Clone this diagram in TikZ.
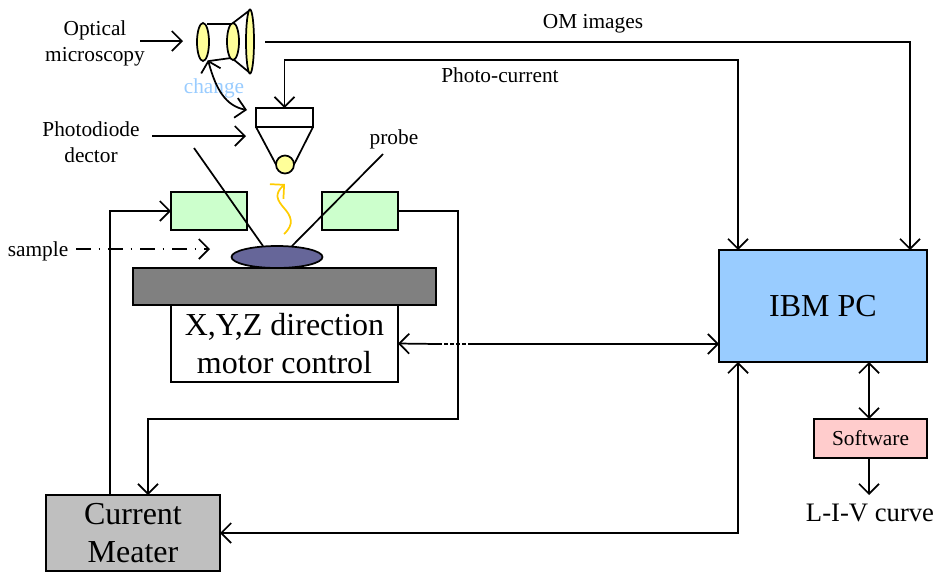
\documentclass[tikz,border=0pt]{standalone}
\usepackage{fontspec}
\setmainfont{Liberation Serif}
\usetikzlibrary{arrows.meta, shapes.geometric}
\newcommand{\px}[1]{#1*0.75pt}
\definecolor{pcblue}{HTML}{99CCFF}
\definecolor{softpink}{HTML}{FFCCCC}
\definecolor{holdgreen}{HTML}{CCFFCC}
\definecolor{lensyellow}{HTML}{FFFF99}
\definecolor{samplepurple}{HTML}{666699}
\definecolor{changeblue}{HTML}{99CCFF}
\definecolor{photoyellow}{HTML}{FFCC00}

\begin{document}
\begin{tikzpicture}[
            x = 0.75pt,
            y = -0.75pt,
            > = {Straight Barb[length=7.5pt,width=15pt]}, % open arrow head
            line width = 1.3pt, % line style
            box/.style = {draw = black, inner sep = 0pt, outer sep = 0pt, align = center},
            lens/.style = {ellipse, draw = black, fill = lensyellow, inner sep = 0pt, outer sep = 0pt},
            small/.style = {align = center, inner sep = 0pt, font = \fontsize{16}{19.5}\selectfont},
            big/.style = {font = \fontsize{24}{28.5}\selectfont},
        ]
        \useasboundingbox (0,0) rectangle (937,572);

        % main boxes
        \node[box, big, fill = pcblue, minimum width = \px{208}, minimum height = \px{112}] (ibm) at (823,306) {IBM PC};
        \node[box, fill = softpink, minimum width = \px{113}, minimum height = \px{39}, font = \fontsize{16}{19}\selectfont] (software) at (870.5,438.5) {Software};
        \node[font = \fontsize{20}{24}\selectfont, inner sep = 0pt] (curve) at (870,513) {L-I-V curve};
        \node[box, big, fill = black!25, minimum width = \px{174}, minimum height = \px{76}] (meter) at (133,533) {Current\\Meater};
        \node[box, big, minimum width = \px{227}, minimum height = \px{77}] (motor) at (284.5,343.5) {X,Y,Z direction\\motor control};
        \node[box, fill = black!50, minimum width = \px{303}, minimum height = \px{37}] (stage) at (284.5,286.5) {};
        \node[box, fill = holdgreen, minimum width = \px{76}, minimum height = \px{38}] (holdl) at (209,211) {};
        \node[box, fill = holdgreen, minimum width = \px{76}, minimum height = \px{38}] (holdr) [right of=holdl, node distance = \px{151}] {};
        \node[ellipse, draw = black, fill = samplepurple, minimum width = \px{91}, minimum height = \px{22}, inner sep = 0pt, outer sep = 0pt] (sample) at (277,257) {};

        % microscope
        \draw (207,24) -- (231,24) (209,61) -- (231,58) (233,23) -- (250,10) (233,59) -- (250,73);
        \node[lens, minimum width = \px{12}, minimum height = \px{38}] (lensa) at (203,42) {};
        \node[lens, minimum width = \px{12}, minimum height = \px{37}] (lensb) at (233,41.5) {};
        \node[lens, minimum width = \px{8}, minimum height = \px{64}] (lensc) at (250,41.5) {};

        % photodiode
        \node[box, fill = white, minimum width = \px{57}, minimum height = \px{19}] (diode) at (284.5,117.5) {};
        \node[circle, draw = black, fill = lensyellow, minimum size = \px{18}, inner sep = 0pt, outer sep = 0pt] (ball) at (285,164.5) {};
        \draw (diode.south west) -- (ball.west) (diode.south east) -- (ball.east);

        % labels
        \node[small] (optical) at (95,43.5) {Optical\\microscopy};
        \node[small] (pdlabel) at (91,142) {Photodiode\\dector};
        \node[small] (samplelabel) at (38,251) {sample};
        \node[small] (probelabel) at (394,139.5) {probe};
        \node[small] (omlabel) at (593,24) {OM images};
        \node[small] (pclabel) at (500,75) {Photo-current};
        \node[small, text = changeblue] (changelabel) at (214,88.5) {change};

        % free ends
        \coordinate (omin) at (910,250);
        \coordinate (omout) at (265,42);
        \coordinate (pcin) at (738,250);
        \coordinate (meterin) at (738,362);
        \coordinate (wirel) at (110,495);
        \coordinate (wirer) at (148,495);
        \coordinate (pdin) at (246,136);
        \coordinate (pdout) at (152,136);
        \coordinate (opticout) at (140,41);
        \coordinate (opticin) at (183,41);
        \coordinate (sampleout) at (76,249);
        \coordinate (samplein) at (210,249);
        \coordinate (changea) at (208,60);
        \coordinate (changeb) at (247,110);
        \coordinate (probea) at (194,148);
        \coordinate (probeb) at (383,154);
        \coordinate (probeta) at (263,246);
        \coordinate (probetb) at (292,246);
        \coordinate (moda) at (438,344);
        \coordinate (modb) at (471,344);
        \coordinate (ibmsoft) at (869,362);
        \coordinate (softibm) at (869,419);
        \coordinate (softout) at (869,458);
        \coordinate (curvein) at (869,495);
        \coordinate (photoa) at (284,234);
        \coordinate (photob) at (285,184);

        % connectors
        \draw[->] (omout) -| (omin);
        \draw[<->] (diode.north) |- (500,60) -| (pcin);
        \draw[->] (opticout) -- (opticin);
        \draw[->] (pdout) -- (pdin);
        \draw[<->] (changea) .. controls (216,90) and (226,106) .. (changeb);
        \draw (probea) -- (probeta) (probeb) -- (probetb);
        \draw[->, dash pattern = on 11pt off 6pt on 1pt off 6pt] (sampleout) -- (samplein);
        \draw[->] (wirel) |- (holdl.west);
        \draw[->] (holdr.east) -| (458,419) -| (wirer);
        \draw[<->] (meter.east) -| (meterin);
        \draw[<-] (motor.east) -- (moda);
        \draw[dash pattern = on 3pt off 1.5pt] (moda) -- (modb);
        \draw[->] (modb) -- (ibm.west |- modb);
        \draw[<->] (ibmsoft) -- (softibm);
        \draw[->] (softout) -- (curvein);
        \draw[->, photoyellow] (photoa) .. controls (295,224) and (291,216) .. (284,208) .. controls (277,200) and (274,194) .. (photob);
    \end{tikzpicture}
\end{document}
